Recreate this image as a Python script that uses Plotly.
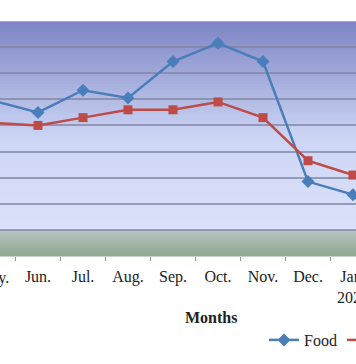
import plotly.graph_objects as go
import numpy as np

# ---- data ----
months = ["May.", "Jun.", "Jul.", "Aug.", "Sep.", "Oct.", "Nov.", "Dec.", "Jan.<br>2023"]
food = [11.9, 11.0, 12.7, 12.1, 14.9, 16.3, 14.9, 5.7, 4.7]
non_food = [10.2, 10.0, 10.6, 11.2, 11.2, 11.8, 10.6, 7.3, 6.2]
y_ticks = list(range(0, 19, 2))

W, H = 356, 364
top_px, bot_px = 21, 256
ymin, ymax = 0, 18

def py(px):
    return (bot_px - px) / (bot_px - top_px)

def lerp(c1, c2, t):
    return tuple(int(round(a + (b - a) * t)) for a, b in zip(c1, c2))

# gradient stops (value -> color)
stops = [
    (18.0, (125, 132, 196)),
    (9.0, (205, 214, 245)),
    (2.0, (218, 225, 250)),
    (1.999, (184, 198, 196)),
    (0.0, (143, 166, 142)),
]

def color_at(v):
    for (v1, c1), (v2, c2) in zip(stops[:-1], stops[1:]):
        if v2 <= v <= v1:
            t = 0 if v1 == v2 else (v1 - v) / (v1 - v2)
            return lerp(c1, c2, t)
    return stops[-1][1]

shapes = []
n = 90
edges = np.linspace(ymin, ymax, n + 1)
step = edges[1] - edges[0]
for a, b in zip(edges[:-1], edges[1:]):
    c = color_at((a + b) / 2)
    shapes.append(dict(type="rect", xref="paper", yref="y", x0=0, x1=1,
                       y0=a, y1=min(b + step * 0.8, ymax),
                       fillcolor="rgb(%d,%d,%d)" % c, line=dict(width=0), layer="below"))

font_family = "Times New Roman, Liberation Serif, serif"

fig = go.Figure()
fig.add_trace(go.Scatter(x=months, y=food, name="Food", mode="lines+markers",
                         line=dict(color="#4a7ebb", width=2.5),
                         marker=dict(symbol="diamond", size=10, color="#4a7ebb")))
fig.add_trace(go.Scatter(x=months, y=non_food, name="Non-food", mode="lines+markers",
                         line=dict(color="#be4b48", width=2.5),
                         marker=dict(symbol="square", size=9, color="#be4b48")))

fig.update_layout(
    width=W, height=H,
    margin=dict(l=0, r=0, t=top_px, b=H - bot_px, autoexpand=False),
    paper_bgcolor="white", plot_bgcolor="rgba(0,0,0,0)",
    shapes=shapes,
    showlegend=True,
    legend=dict(orientation="h", x=264 / W, xanchor="left", y=py(340), yanchor="middle",
                font=dict(family=font_family, size=16, color="#222"),
                bgcolor="rgba(0,0,0,0)", borderwidth=0),
    annotations=[
        dict(text="<b>Months</b>", xref="paper", yref="paper", x=211 / W, y=py(317),
             showarrow=False, xanchor="center", yanchor="middle",
             font=dict(family=font_family, size=16, color="#222")),
        dict(text=months[0], xref="paper", yref="paper", x=-7 / W, y=py(278),
             showarrow=False, xanchor="center", yanchor="middle",
             font=dict(family=font_family, size=16, color="#222")),
    ],
)
fig.update_xaxes(type="category", categoryorder="array", categoryarray=months,
                 range=[7 / 45, 363 / 45], tickson="boundaries", ticks="outside",
                 ticklen=4, tickcolor="#999", showgrid=False, zeroline=False,
                 showline=True, linecolor="#c9d2c9", linewidth=1, ticklabelstandoff=6,
                 tickfont=dict(family=font_family, size=16, color="#222"))
fig.update_yaxes(range=[ymin, ymax], tickvals=y_ticks, showticklabels=False,
                 showgrid=True, gridcolor="rgba(128,134,160,0.75)", gridwidth=1.5,
                 zeroline=False, showline=False, ticks="")
fig.add_shape(type="line", xref="paper", yref="y", x0=0, x1=1, y0=ymax, y1=ymax,
              line=dict(color="#b8bcc8", width=1.5), layer="above")

fig.write_html("out.html", config={"displayModeBar": False},
               post_script="document.body.style.margin='0';document.body.style.overflow='hidden';")
